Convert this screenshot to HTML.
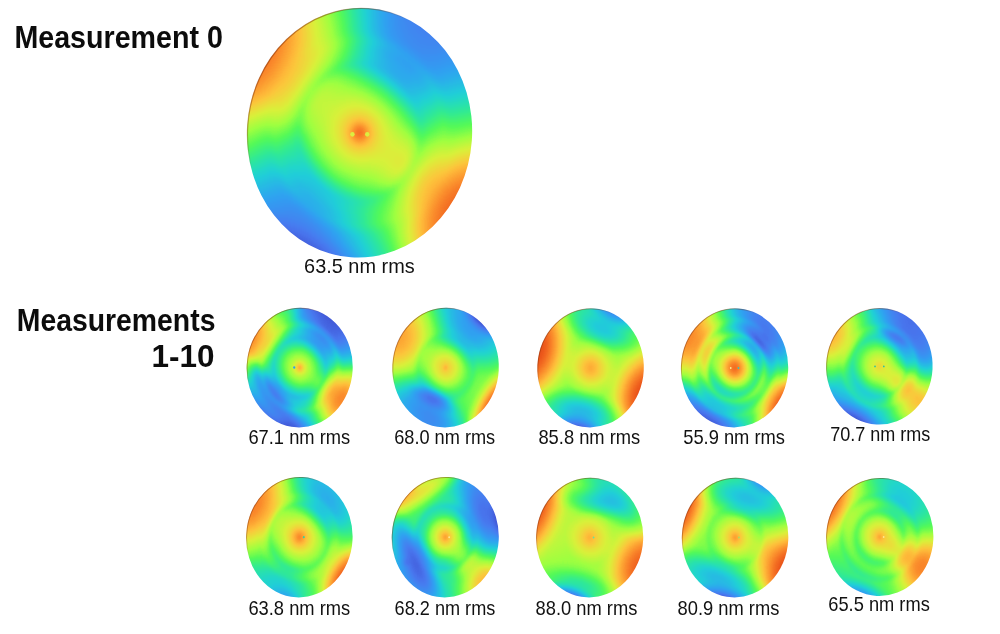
<!DOCTYPE html>
<html><head><meta charset="utf-8"><title>Measurements</title>
<style>
html,body{margin:0;padding:0;background:#fff}
body{width:1000px;height:634px;overflow:hidden;position:relative}
svg{display:block;position:absolute;left:0;top:0}
text{font-family:"Liberation Sans",sans-serif;fill:#111}
.h{font-weight:bold;font-size:32px;fill:#0c0c0c}
</style></head><body>
<svg width="1000" height="634" viewBox="0 0 1000 634">
<defs>
<clipPath id="uc"><circle r="1"/></clipPath>
<linearGradient id="rim" x1="0.1" y1="0.1" x2="0.9" y2="0.9"><stop offset="0" stop-color="#7a2800" stop-opacity=".5"/><stop offset=".2" stop-color="#7a2800" stop-opacity=".4"/><stop offset=".32" stop-color="#7a2800" stop-opacity="0"/><stop offset="1" stop-color="#7a2800" stop-opacity="0"/></linearGradient>
<filter id="jet" x="-0.05" y="-0.05" width="1.1" height="1.1" color-interpolation-filters="sRGB"><feGaussianBlur stdDeviation="0.022"/><feComponentTransfer><feFuncR type="table" tableValues="0.165 0.190 0.216 0.242 0.258 0.271 0.285 0.274 0.248 0.221 0.195 0.175 0.159 0.144 0.128 0.132 0.149 0.166 0.195 0.240 0.285 0.341 0.436 0.532 0.627 0.701 0.775 0.848 0.897 0.940 0.983 0.997 0.992 0.987 0.978 0.962 0.946 0.926 0.889 0.852 0.816"/><feFuncG type="table" tableValues="0.165 0.210 0.255 0.301 0.350 0.400 0.450 0.495 0.536 0.578 0.619 0.664 0.711 0.758 0.805 0.840 0.867 0.894 0.919 0.941 0.963 0.982 0.988 0.994 1.000 0.982 0.963 0.945 0.896 0.840 0.783 0.721 0.655 0.589 0.525 0.463 0.402 0.345 0.303 0.261 0.220"/><feFuncB type="table" tableValues="0.502 0.600 0.698 0.796 0.847 0.886 0.925 0.942 0.944 0.946 0.948 0.933 0.905 0.878 0.850 0.797 0.725 0.654 0.578 0.495 0.412 0.339 0.310 0.280 0.251 0.244 0.236 0.229 0.229 0.232 0.234 0.224 0.204 0.184 0.165 0.145 0.125 0.107 0.092 0.077 0.063"/></feComponentTransfer></filter>
<radialGradient id="wb"><stop offset="0" stop-color="#fff" stop-opacity="1"/><stop offset="0.15" stop-color="#fff" stop-opacity="0.95"/><stop offset="0.3" stop-color="#fff" stop-opacity="0.8"/><stop offset="0.45" stop-color="#fff" stop-opacity="0.58"/><stop offset="0.6" stop-color="#fff" stop-opacity="0.35"/><stop offset="0.75" stop-color="#fff" stop-opacity="0.16"/><stop offset="0.88" stop-color="#fff" stop-opacity="0.05"/><stop offset="1" stop-color="#fff" stop-opacity="0"/></radialGradient>
<radialGradient id="kb"><stop offset="0" stop-color="#000" stop-opacity="1"/><stop offset="0.15" stop-color="#000" stop-opacity="0.95"/><stop offset="0.3" stop-color="#000" stop-opacity="0.8"/><stop offset="0.45" stop-color="#000" stop-opacity="0.58"/><stop offset="0.6" stop-color="#000" stop-opacity="0.35"/><stop offset="0.75" stop-color="#000" stop-opacity="0.16"/><stop offset="0.88" stop-color="#000" stop-opacity="0.05"/><stop offset="1" stop-color="#000" stop-opacity="0"/></radialGradient>
<linearGradient id="sx0" gradientUnits="userSpaceOnUse" x1="-1" y1="0" x2="1" y2="0" gradientTransform="rotate(-147)"><stop offset="0" stop-color="#c2c2c2"/><stop offset="0.05" stop-color="#b7b7b7"/><stop offset="0.1" stop-color="#aeaeae"/><stop offset="0.15" stop-color="#a5a5a5"/><stop offset="0.2" stop-color="#9e9e9e"/><stop offset="0.25" stop-color="#989898"/><stop offset="0.3" stop-color="#939393"/><stop offset="0.35" stop-color="#8f8f8f"/><stop offset="0.4" stop-color="#8c8c8c"/><stop offset="0.45" stop-color="#8a8a8a"/><stop offset="0.5" stop-color="#8a8a8a"/><stop offset="0.55" stop-color="#8a8a8a"/><stop offset="0.6" stop-color="#8c8c8c"/><stop offset="0.65" stop-color="#8f8f8f"/><stop offset="0.7" stop-color="#939393"/><stop offset="0.75" stop-color="#989898"/><stop offset="0.8" stop-color="#9e9e9e"/><stop offset="0.85" stop-color="#a5a5a5"/><stop offset="0.9" stop-color="#aeaeae"/><stop offset="0.95" stop-color="#b7b7b7"/><stop offset="1" stop-color="#c2c2c2"/></linearGradient>
<linearGradient id="sy0" gradientUnits="userSpaceOnUse" x1="0" y1="-1" x2="0" y2="1" gradientTransform="rotate(-147)"><stop offset="0" stop-color="#000" stop-opacity="0.556"/><stop offset="0.05" stop-color="#000" stop-opacity="0.450"/><stop offset="0.1" stop-color="#000" stop-opacity="0.356"/><stop offset="0.15" stop-color="#000" stop-opacity="0.272"/><stop offset="0.2" stop-color="#000" stop-opacity="0.200"/><stop offset="0.25" stop-color="#000" stop-opacity="0.139"/><stop offset="0.3" stop-color="#000" stop-opacity="0.089"/><stop offset="0.35" stop-color="#000" stop-opacity="0.050"/><stop offset="0.4" stop-color="#000" stop-opacity="0.022"/><stop offset="0.45" stop-color="#000" stop-opacity="0.006"/><stop offset="0.5" stop-color="#000" stop-opacity="0.000"/><stop offset="0.55" stop-color="#000" stop-opacity="0.006"/><stop offset="0.6" stop-color="#000" stop-opacity="0.022"/><stop offset="0.65" stop-color="#000" stop-opacity="0.050"/><stop offset="0.7" stop-color="#000" stop-opacity="0.089"/><stop offset="0.75" stop-color="#000" stop-opacity="0.139"/><stop offset="0.8" stop-color="#000" stop-opacity="0.200"/><stop offset="0.85" stop-color="#000" stop-opacity="0.272"/><stop offset="0.9" stop-color="#000" stop-opacity="0.356"/><stop offset="0.95" stop-color="#000" stop-opacity="0.450"/><stop offset="1" stop-color="#000" stop-opacity="0.556"/></linearGradient>
<radialGradient id="rg0" gradientUnits="userSpaceOnUse" cx="0" cy="0" r="1.05"><stop offset="0" stop-color="#fff" stop-opacity="0.800"/><stop offset="0.0380952" stop-color="#fff" stop-opacity="0.700"/><stop offset="0.0761905" stop-color="#fff" stop-opacity="0.540"/><stop offset="0.12381" stop-color="#fff" stop-opacity="0.420"/><stop offset="0.190476" stop-color="#fff" stop-opacity="0.320"/><stop offset="0.285714" stop-color="#fff" stop-opacity="0.200"/><stop offset="0.380952" stop-color="#fff" stop-opacity="0.080"/><stop offset="0.428571" stop-color="#fff" stop-opacity="0"/><stop offset="0.428571" stop-color="#000" stop-opacity="0"/><stop offset="0.504762" stop-color="#000" stop-opacity="0.130"/><stop offset="0.571429" stop-color="#000" stop-opacity="0.050"/><stop offset="0.628571" stop-color="#000" stop-opacity="0"/><stop offset="0.628571" stop-color="#fff" stop-opacity="0"/><stop offset="0.685714" stop-color="#fff" stop-opacity="0.040"/><stop offset="0.761905" stop-color="#fff" stop-opacity="0"/><stop offset="0.952381" stop-color="#fff" stop-opacity="0"/></radialGradient>
<clipPath id="c0"><ellipse cx="359.6" cy="132.8" rx="112.5" ry="124.8" transform="rotate(4 359.6 132.8)"/></clipPath>
<linearGradient id="sx1" gradientUnits="userSpaceOnUse" x1="-1" y1="0" x2="1" y2="0" gradientTransform="rotate(-150)"><stop offset="0" stop-color="#a3a3a3"/><stop offset="0.05" stop-color="#9a9a9a"/><stop offset="0.1" stop-color="#919191"/><stop offset="0.15" stop-color="#898989"/><stop offset="0.2" stop-color="#838383"/><stop offset="0.25" stop-color="#7d7d7d"/><stop offset="0.3" stop-color="#787878"/><stop offset="0.35" stop-color="#757575"/><stop offset="0.4" stop-color="#727272"/><stop offset="0.45" stop-color="#717171"/><stop offset="0.5" stop-color="#707070"/><stop offset="0.55" stop-color="#717171"/><stop offset="0.6" stop-color="#727272"/><stop offset="0.65" stop-color="#757575"/><stop offset="0.7" stop-color="#787878"/><stop offset="0.75" stop-color="#7d7d7d"/><stop offset="0.8" stop-color="#838383"/><stop offset="0.85" stop-color="#898989"/><stop offset="0.9" stop-color="#919191"/><stop offset="0.95" stop-color="#9a9a9a"/><stop offset="1" stop-color="#a3a3a3"/></linearGradient>
<linearGradient id="sy1" gradientUnits="userSpaceOnUse" x1="0" y1="-1" x2="0" y2="1" gradientTransform="rotate(-150)"><stop offset="0" stop-color="#000" stop-opacity="0.682"/><stop offset="0.05" stop-color="#000" stop-opacity="0.552"/><stop offset="0.1" stop-color="#000" stop-opacity="0.436"/><stop offset="0.15" stop-color="#000" stop-opacity="0.334"/><stop offset="0.2" stop-color="#000" stop-opacity="0.245"/><stop offset="0.25" stop-color="#000" stop-opacity="0.170"/><stop offset="0.3" stop-color="#000" stop-opacity="0.109"/><stop offset="0.35" stop-color="#000" stop-opacity="0.061"/><stop offset="0.4" stop-color="#000" stop-opacity="0.027"/><stop offset="0.45" stop-color="#000" stop-opacity="0.007"/><stop offset="0.5" stop-color="#000" stop-opacity="0.000"/><stop offset="0.55" stop-color="#000" stop-opacity="0.007"/><stop offset="0.6" stop-color="#000" stop-opacity="0.027"/><stop offset="0.65" stop-color="#000" stop-opacity="0.061"/><stop offset="0.7" stop-color="#000" stop-opacity="0.109"/><stop offset="0.75" stop-color="#000" stop-opacity="0.170"/><stop offset="0.8" stop-color="#000" stop-opacity="0.245"/><stop offset="0.85" stop-color="#000" stop-opacity="0.334"/><stop offset="0.9" stop-color="#000" stop-opacity="0.436"/><stop offset="0.95" stop-color="#000" stop-opacity="0.552"/><stop offset="1" stop-color="#000" stop-opacity="0.682"/></linearGradient>
<radialGradient id="rg1" gradientUnits="userSpaceOnUse" cx="0" cy="0" r="1.05"><stop offset="0" stop-color="#fff" stop-opacity="0.700"/><stop offset="0.0571429" stop-color="#fff" stop-opacity="0.500"/><stop offset="0.142857" stop-color="#fff" stop-opacity="0.340"/><stop offset="0.266667" stop-color="#fff" stop-opacity="0.180"/><stop offset="0.361905" stop-color="#fff" stop-opacity="0"/><stop offset="0.361905" stop-color="#000" stop-opacity="0"/><stop offset="0.457143" stop-color="#000" stop-opacity="0.200"/><stop offset="0.542857" stop-color="#000" stop-opacity="0.050"/><stop offset="0.590476" stop-color="#000" stop-opacity="0"/><stop offset="0.590476" stop-color="#fff" stop-opacity="0"/><stop offset="0.666667" stop-color="#fff" stop-opacity="0.100"/><stop offset="0.761905" stop-color="#fff" stop-opacity="0"/><stop offset="0.952381" stop-color="#fff" stop-opacity="0"/></radialGradient>
<clipPath id="c1"><ellipse cx="299.7" cy="367.6" rx="53" ry="59.8" transform="rotate(3 299.7 367.6)"/></clipPath>
<linearGradient id="sx2" gradientUnits="userSpaceOnUse" x1="-1" y1="0" x2="1" y2="0" gradientTransform="rotate(-150)"><stop offset="0" stop-color="#a6a6a6"/><stop offset="0.05" stop-color="#9e9e9e"/><stop offset="0.1" stop-color="#989898"/><stop offset="0.15" stop-color="#929292"/><stop offset="0.2" stop-color="#8d8d8d"/><stop offset="0.25" stop-color="#898989"/><stop offset="0.3" stop-color="#868686"/><stop offset="0.35" stop-color="#838383"/><stop offset="0.4" stop-color="#818181"/><stop offset="0.45" stop-color="#808080"/><stop offset="0.5" stop-color="#808080"/><stop offset="0.55" stop-color="#808080"/><stop offset="0.6" stop-color="#818181"/><stop offset="0.65" stop-color="#838383"/><stop offset="0.7" stop-color="#868686"/><stop offset="0.75" stop-color="#898989"/><stop offset="0.8" stop-color="#8d8d8d"/><stop offset="0.85" stop-color="#929292"/><stop offset="0.9" stop-color="#989898"/><stop offset="0.95" stop-color="#9e9e9e"/><stop offset="1" stop-color="#a6a6a6"/></linearGradient>
<linearGradient id="sy2" gradientUnits="userSpaceOnUse" x1="0" y1="-1" x2="0" y2="1" gradientTransform="rotate(-150)"><stop offset="0" stop-color="#000" stop-opacity="0.400"/><stop offset="0.05" stop-color="#000" stop-opacity="0.324"/><stop offset="0.1" stop-color="#000" stop-opacity="0.256"/><stop offset="0.15" stop-color="#000" stop-opacity="0.196"/><stop offset="0.2" stop-color="#000" stop-opacity="0.144"/><stop offset="0.25" stop-color="#000" stop-opacity="0.100"/><stop offset="0.3" stop-color="#000" stop-opacity="0.064"/><stop offset="0.35" stop-color="#000" stop-opacity="0.036"/><stop offset="0.4" stop-color="#000" stop-opacity="0.016"/><stop offset="0.45" stop-color="#000" stop-opacity="0.004"/><stop offset="0.5" stop-color="#000" stop-opacity="0.000"/><stop offset="0.55" stop-color="#000" stop-opacity="0.004"/><stop offset="0.6" stop-color="#000" stop-opacity="0.016"/><stop offset="0.65" stop-color="#000" stop-opacity="0.036"/><stop offset="0.7" stop-color="#000" stop-opacity="0.064"/><stop offset="0.75" stop-color="#000" stop-opacity="0.100"/><stop offset="0.8" stop-color="#000" stop-opacity="0.144"/><stop offset="0.85" stop-color="#000" stop-opacity="0.196"/><stop offset="0.9" stop-color="#000" stop-opacity="0.256"/><stop offset="0.95" stop-color="#000" stop-opacity="0.324"/><stop offset="1" stop-color="#000" stop-opacity="0.400"/></linearGradient>
<radialGradient id="rg2" gradientUnits="userSpaceOnUse" cx="0" cy="0" r="1.05"><stop offset="0" stop-color="#fff" stop-opacity="0.620"/><stop offset="0.047619" stop-color="#fff" stop-opacity="0.480"/><stop offset="0.190476" stop-color="#fff" stop-opacity="0.340"/><stop offset="0.304762" stop-color="#fff" stop-opacity="0.150"/><stop offset="0.4" stop-color="#fff" stop-opacity="0"/><stop offset="0.4" stop-color="#000" stop-opacity="0"/><stop offset="0.47619" stop-color="#000" stop-opacity="0.080"/><stop offset="0.571429" stop-color="#000" stop-opacity="0"/><stop offset="0.952381" stop-color="#fff" stop-opacity="0"/></radialGradient>
<clipPath id="c2"><ellipse cx="445.6" cy="367.6" rx="53.2" ry="59.8" transform="rotate(3 445.6 367.6)"/></clipPath>
<linearGradient id="sx3" gradientUnits="userSpaceOnUse" x1="-1" y1="0" x2="1" y2="0" gradientTransform="rotate(-165)"><stop offset="0" stop-color="#bdbdbd"/><stop offset="0.05" stop-color="#b6b6b6"/><stop offset="0.1" stop-color="#b0b0b0"/><stop offset="0.15" stop-color="#aaaaaa"/><stop offset="0.2" stop-color="#a6a6a6"/><stop offset="0.25" stop-color="#a2a2a2"/><stop offset="0.3" stop-color="#9f9f9f"/><stop offset="0.35" stop-color="#9c9c9c"/><stop offset="0.4" stop-color="#9a9a9a"/><stop offset="0.45" stop-color="#999999"/><stop offset="0.5" stop-color="#999999"/><stop offset="0.55" stop-color="#999999"/><stop offset="0.6" stop-color="#9a9a9a"/><stop offset="0.65" stop-color="#9c9c9c"/><stop offset="0.7" stop-color="#9f9f9f"/><stop offset="0.75" stop-color="#a2a2a2"/><stop offset="0.8" stop-color="#a6a6a6"/><stop offset="0.85" stop-color="#aaaaaa"/><stop offset="0.9" stop-color="#b0b0b0"/><stop offset="0.95" stop-color="#b6b6b6"/><stop offset="1" stop-color="#bdbdbd"/></linearGradient>
<linearGradient id="sy3" gradientUnits="userSpaceOnUse" x1="0" y1="-1" x2="0" y2="1" gradientTransform="rotate(-165)"><stop offset="0" stop-color="#000" stop-opacity="0.333"/><stop offset="0.05" stop-color="#000" stop-opacity="0.270"/><stop offset="0.1" stop-color="#000" stop-opacity="0.213"/><stop offset="0.15" stop-color="#000" stop-opacity="0.163"/><stop offset="0.2" stop-color="#000" stop-opacity="0.120"/><stop offset="0.25" stop-color="#000" stop-opacity="0.083"/><stop offset="0.3" stop-color="#000" stop-opacity="0.053"/><stop offset="0.35" stop-color="#000" stop-opacity="0.030"/><stop offset="0.4" stop-color="#000" stop-opacity="0.013"/><stop offset="0.45" stop-color="#000" stop-opacity="0.003"/><stop offset="0.5" stop-color="#000" stop-opacity="0.000"/><stop offset="0.55" stop-color="#000" stop-opacity="0.003"/><stop offset="0.6" stop-color="#000" stop-opacity="0.013"/><stop offset="0.65" stop-color="#000" stop-opacity="0.030"/><stop offset="0.7" stop-color="#000" stop-opacity="0.053"/><stop offset="0.75" stop-color="#000" stop-opacity="0.083"/><stop offset="0.8" stop-color="#000" stop-opacity="0.120"/><stop offset="0.85" stop-color="#000" stop-opacity="0.163"/><stop offset="0.9" stop-color="#000" stop-opacity="0.213"/><stop offset="0.95" stop-color="#000" stop-opacity="0.270"/><stop offset="1" stop-color="#000" stop-opacity="0.333"/></linearGradient>
<radialGradient id="rg3" gradientUnits="userSpaceOnUse" cx="0" cy="0" r="1.05"><stop offset="0" stop-color="#fff" stop-opacity="0.500"/><stop offset="0.0952381" stop-color="#fff" stop-opacity="0.420"/><stop offset="0.190476" stop-color="#fff" stop-opacity="0.300"/><stop offset="0.333333" stop-color="#fff" stop-opacity="0.120"/><stop offset="0.47619" stop-color="#fff" stop-opacity="0"/><stop offset="0.952381" stop-color="#fff" stop-opacity="0"/></radialGradient>
<clipPath id="c3"><ellipse cx="590.6" cy="367.9" rx="53.2" ry="59.5" transform="rotate(3 590.6 367.9)"/></clipPath>
<linearGradient id="sx4" gradientUnits="userSpaceOnUse" x1="-1" y1="0" x2="1" y2="0" gradientTransform="rotate(-148)"><stop offset="0" stop-color="#a8a8a8"/><stop offset="0.05" stop-color="#a0a0a0"/><stop offset="0.1" stop-color="#989898"/><stop offset="0.15" stop-color="#919191"/><stop offset="0.2" stop-color="#8b8b8b"/><stop offset="0.25" stop-color="#868686"/><stop offset="0.3" stop-color="#828282"/><stop offset="0.35" stop-color="#7f7f7f"/><stop offset="0.4" stop-color="#7c7c7c"/><stop offset="0.45" stop-color="#7b7b7b"/><stop offset="0.5" stop-color="#7a7a7a"/><stop offset="0.55" stop-color="#7b7b7b"/><stop offset="0.6" stop-color="#7c7c7c"/><stop offset="0.65" stop-color="#7f7f7f"/><stop offset="0.7" stop-color="#828282"/><stop offset="0.75" stop-color="#868686"/><stop offset="0.8" stop-color="#8b8b8b"/><stop offset="0.85" stop-color="#919191"/><stop offset="0.9" stop-color="#989898"/><stop offset="0.95" stop-color="#a0a0a0"/><stop offset="1" stop-color="#a8a8a8"/></linearGradient>
<linearGradient id="sy4" gradientUnits="userSpaceOnUse" x1="0" y1="-1" x2="0" y2="1" gradientTransform="rotate(-148)"><stop offset="0" stop-color="#000" stop-opacity="0.521"/><stop offset="0.05" stop-color="#000" stop-opacity="0.422"/><stop offset="0.1" stop-color="#000" stop-opacity="0.333"/><stop offset="0.15" stop-color="#000" stop-opacity="0.255"/><stop offset="0.2" stop-color="#000" stop-opacity="0.188"/><stop offset="0.25" stop-color="#000" stop-opacity="0.130"/><stop offset="0.3" stop-color="#000" stop-opacity="0.083"/><stop offset="0.35" stop-color="#000" stop-opacity="0.047"/><stop offset="0.4" stop-color="#000" stop-opacity="0.021"/><stop offset="0.45" stop-color="#000" stop-opacity="0.005"/><stop offset="0.5" stop-color="#000" stop-opacity="0.000"/><stop offset="0.55" stop-color="#000" stop-opacity="0.005"/><stop offset="0.6" stop-color="#000" stop-opacity="0.021"/><stop offset="0.65" stop-color="#000" stop-opacity="0.047"/><stop offset="0.7" stop-color="#000" stop-opacity="0.083"/><stop offset="0.75" stop-color="#000" stop-opacity="0.130"/><stop offset="0.8" stop-color="#000" stop-opacity="0.188"/><stop offset="0.85" stop-color="#000" stop-opacity="0.255"/><stop offset="0.9" stop-color="#000" stop-opacity="0.333"/><stop offset="0.95" stop-color="#000" stop-opacity="0.422"/><stop offset="1" stop-color="#000" stop-opacity="0.521"/></linearGradient>
<radialGradient id="rg4" gradientUnits="userSpaceOnUse" cx="0" cy="0" r="1.05"><stop offset="0" stop-color="#fff" stop-opacity="0.820"/><stop offset="0.0761905" stop-color="#fff" stop-opacity="0.720"/><stop offset="0.152381" stop-color="#fff" stop-opacity="0.560"/><stop offset="0.247619" stop-color="#fff" stop-opacity="0.320"/><stop offset="0.32381" stop-color="#fff" stop-opacity="0.100"/><stop offset="0.361905" stop-color="#fff" stop-opacity="0"/><stop offset="0.361905" stop-color="#000" stop-opacity="0"/><stop offset="0.419048" stop-color="#000" stop-opacity="0.120"/><stop offset="0.466667" stop-color="#000" stop-opacity="0"/><stop offset="0.466667" stop-color="#fff" stop-opacity="0"/><stop offset="0.514286" stop-color="#fff" stop-opacity="0.120"/><stop offset="0.561905" stop-color="#fff" stop-opacity="0"/><stop offset="0.561905" stop-color="#000" stop-opacity="0"/><stop offset="0.628571" stop-color="#000" stop-opacity="0.100"/><stop offset="0.695238" stop-color="#000" stop-opacity="0"/><stop offset="0.695238" stop-color="#fff" stop-opacity="0"/><stop offset="0.752381" stop-color="#fff" stop-opacity="0.060"/><stop offset="0.809524" stop-color="#fff" stop-opacity="0"/><stop offset="0.952381" stop-color="#fff" stop-opacity="0"/></radialGradient>
<clipPath id="c4"><ellipse cx="734.6" cy="367.9" rx="53.6" ry="59.5" transform="rotate(3 734.6 367.9)"/></clipPath>
<linearGradient id="sx5" gradientUnits="userSpaceOnUse" x1="-1" y1="0" x2="1" y2="0" gradientTransform="rotate(-148)"><stop offset="0" stop-color="#9e9e9e"/><stop offset="0.05" stop-color="#979797"/><stop offset="0.1" stop-color="#909090"/><stop offset="0.15" stop-color="#8b8b8b"/><stop offset="0.2" stop-color="#868686"/><stop offset="0.25" stop-color="#818181"/><stop offset="0.3" stop-color="#7e7e7e"/><stop offset="0.35" stop-color="#7b7b7b"/><stop offset="0.4" stop-color="#797979"/><stop offset="0.45" stop-color="#787878"/><stop offset="0.5" stop-color="#787878"/><stop offset="0.55" stop-color="#787878"/><stop offset="0.6" stop-color="#797979"/><stop offset="0.65" stop-color="#7b7b7b"/><stop offset="0.7" stop-color="#7e7e7e"/><stop offset="0.75" stop-color="#818181"/><stop offset="0.8" stop-color="#868686"/><stop offset="0.85" stop-color="#8b8b8b"/><stop offset="0.9" stop-color="#909090"/><stop offset="0.95" stop-color="#979797"/><stop offset="1" stop-color="#9e9e9e"/></linearGradient>
<linearGradient id="sy5" gradientUnits="userSpaceOnUse" x1="0" y1="-1" x2="0" y2="1" gradientTransform="rotate(-148)"><stop offset="0" stop-color="#000" stop-opacity="0.596"/><stop offset="0.05" stop-color="#000" stop-opacity="0.483"/><stop offset="0.1" stop-color="#000" stop-opacity="0.381"/><stop offset="0.15" stop-color="#000" stop-opacity="0.292"/><stop offset="0.2" stop-color="#000" stop-opacity="0.214"/><stop offset="0.25" stop-color="#000" stop-opacity="0.149"/><stop offset="0.3" stop-color="#000" stop-opacity="0.095"/><stop offset="0.35" stop-color="#000" stop-opacity="0.054"/><stop offset="0.4" stop-color="#000" stop-opacity="0.024"/><stop offset="0.45" stop-color="#000" stop-opacity="0.006"/><stop offset="0.5" stop-color="#000" stop-opacity="0.000"/><stop offset="0.55" stop-color="#000" stop-opacity="0.006"/><stop offset="0.6" stop-color="#000" stop-opacity="0.024"/><stop offset="0.65" stop-color="#000" stop-opacity="0.054"/><stop offset="0.7" stop-color="#000" stop-opacity="0.095"/><stop offset="0.75" stop-color="#000" stop-opacity="0.149"/><stop offset="0.8" stop-color="#000" stop-opacity="0.214"/><stop offset="0.85" stop-color="#000" stop-opacity="0.292"/><stop offset="0.9" stop-color="#000" stop-opacity="0.381"/><stop offset="0.95" stop-color="#000" stop-opacity="0.483"/><stop offset="1" stop-color="#000" stop-opacity="0.596"/></linearGradient>
<radialGradient id="rg5" gradientUnits="userSpaceOnUse" cx="0" cy="0" r="1.05"><stop offset="0" stop-color="#fff" stop-opacity="0.500"/><stop offset="0.0761905" stop-color="#fff" stop-opacity="0.420"/><stop offset="0.190476" stop-color="#fff" stop-opacity="0.320"/><stop offset="0.304762" stop-color="#fff" stop-opacity="0.160"/><stop offset="0.4" stop-color="#fff" stop-opacity="0"/><stop offset="0.4" stop-color="#000" stop-opacity="0"/><stop offset="0.47619" stop-color="#000" stop-opacity="0.120"/><stop offset="0.552381" stop-color="#000" stop-opacity="0"/><stop offset="0.552381" stop-color="#fff" stop-opacity="0"/><stop offset="0.628571" stop-color="#fff" stop-opacity="0.080"/><stop offset="0.714286" stop-color="#fff" stop-opacity="0"/><stop offset="0.952381" stop-color="#fff" stop-opacity="0"/></radialGradient>
<clipPath id="c5"><ellipse cx="879.4" cy="366.4" rx="53.2" ry="58.2" transform="rotate(3 879.4 366.4)"/></clipPath>
<linearGradient id="sx6" gradientUnits="userSpaceOnUse" x1="-1" y1="0" x2="1" y2="0" gradientTransform="rotate(-148)"><stop offset="0" stop-color="#adadad"/><stop offset="0.05" stop-color="#a8a8a8"/><stop offset="0.1" stop-color="#a2a2a2"/><stop offset="0.15" stop-color="#9e9e9e"/><stop offset="0.2" stop-color="#9a9a9a"/><stop offset="0.25" stop-color="#969696"/><stop offset="0.3" stop-color="#949494"/><stop offset="0.35" stop-color="#929292"/><stop offset="0.4" stop-color="#909090"/><stop offset="0.45" stop-color="#8f8f8f"/><stop offset="0.5" stop-color="#8f8f8f"/><stop offset="0.55" stop-color="#8f8f8f"/><stop offset="0.6" stop-color="#909090"/><stop offset="0.65" stop-color="#929292"/><stop offset="0.7" stop-color="#949494"/><stop offset="0.75" stop-color="#969696"/><stop offset="0.8" stop-color="#9a9a9a"/><stop offset="0.85" stop-color="#9e9e9e"/><stop offset="0.9" stop-color="#a2a2a2"/><stop offset="0.95" stop-color="#a8a8a8"/><stop offset="1" stop-color="#adadad"/></linearGradient>
<linearGradient id="sy6" gradientUnits="userSpaceOnUse" x1="0" y1="-1" x2="0" y2="1" gradientTransform="rotate(-148)"><stop offset="0" stop-color="#000" stop-opacity="0.268"/><stop offset="0.05" stop-color="#000" stop-opacity="0.217"/><stop offset="0.1" stop-color="#000" stop-opacity="0.171"/><stop offset="0.15" stop-color="#000" stop-opacity="0.131"/><stop offset="0.2" stop-color="#000" stop-opacity="0.096"/><stop offset="0.25" stop-color="#000" stop-opacity="0.067"/><stop offset="0.3" stop-color="#000" stop-opacity="0.043"/><stop offset="0.35" stop-color="#000" stop-opacity="0.024"/><stop offset="0.4" stop-color="#000" stop-opacity="0.011"/><stop offset="0.45" stop-color="#000" stop-opacity="0.003"/><stop offset="0.5" stop-color="#000" stop-opacity="0.000"/><stop offset="0.55" stop-color="#000" stop-opacity="0.003"/><stop offset="0.6" stop-color="#000" stop-opacity="0.011"/><stop offset="0.65" stop-color="#000" stop-opacity="0.024"/><stop offset="0.7" stop-color="#000" stop-opacity="0.043"/><stop offset="0.75" stop-color="#000" stop-opacity="0.067"/><stop offset="0.8" stop-color="#000" stop-opacity="0.096"/><stop offset="0.85" stop-color="#000" stop-opacity="0.131"/><stop offset="0.9" stop-color="#000" stop-opacity="0.171"/><stop offset="0.95" stop-color="#000" stop-opacity="0.217"/><stop offset="1" stop-color="#000" stop-opacity="0.268"/></linearGradient>
<radialGradient id="rg6" gradientUnits="userSpaceOnUse" cx="0" cy="0" r="1.05"><stop offset="0" stop-color="#fff" stop-opacity="0.700"/><stop offset="0.0761905" stop-color="#fff" stop-opacity="0.540"/><stop offset="0.171429" stop-color="#fff" stop-opacity="0.360"/><stop offset="0.285714" stop-color="#fff" stop-opacity="0.200"/><stop offset="0.419048" stop-color="#fff" stop-opacity="0"/><stop offset="0.419048" stop-color="#000" stop-opacity="0"/><stop offset="0.504762" stop-color="#000" stop-opacity="0.100"/><stop offset="0.580952" stop-color="#000" stop-opacity="0"/><stop offset="0.580952" stop-color="#fff" stop-opacity="0"/><stop offset="0.647619" stop-color="#fff" stop-opacity="0.040"/><stop offset="0.714286" stop-color="#fff" stop-opacity="0"/><stop offset="0.952381" stop-color="#fff" stop-opacity="0"/></radialGradient>
<clipPath id="c6"><ellipse cx="299.4" cy="537.2" rx="53.2" ry="60.2" transform="rotate(3 299.4 537.2)"/></clipPath>
<linearGradient id="sx7" gradientUnits="userSpaceOnUse" x1="-1" y1="0" x2="1" y2="0" gradientTransform="rotate(-135)"><stop offset="0" stop-color="#8c8c8c"/><stop offset="0.05" stop-color="#878787"/><stop offset="0.1" stop-color="#838383"/><stop offset="0.15" stop-color="#7f7f7f"/><stop offset="0.2" stop-color="#7c7c7c"/><stop offset="0.25" stop-color="#797979"/><stop offset="0.3" stop-color="#777777"/><stop offset="0.35" stop-color="#757575"/><stop offset="0.4" stop-color="#747474"/><stop offset="0.45" stop-color="#737373"/><stop offset="0.5" stop-color="#737373"/><stop offset="0.55" stop-color="#737373"/><stop offset="0.6" stop-color="#747474"/><stop offset="0.65" stop-color="#757575"/><stop offset="0.7" stop-color="#777777"/><stop offset="0.75" stop-color="#797979"/><stop offset="0.8" stop-color="#7c7c7c"/><stop offset="0.85" stop-color="#7f7f7f"/><stop offset="0.9" stop-color="#838383"/><stop offset="0.95" stop-color="#878787"/><stop offset="1" stop-color="#8c8c8c"/></linearGradient>
<linearGradient id="sy7" gradientUnits="userSpaceOnUse" x1="0" y1="-1" x2="0" y2="1" gradientTransform="rotate(-135)"><stop offset="0" stop-color="#000" stop-opacity="0.333"/><stop offset="0.05" stop-color="#000" stop-opacity="0.270"/><stop offset="0.1" stop-color="#000" stop-opacity="0.213"/><stop offset="0.15" stop-color="#000" stop-opacity="0.163"/><stop offset="0.2" stop-color="#000" stop-opacity="0.120"/><stop offset="0.25" stop-color="#000" stop-opacity="0.083"/><stop offset="0.3" stop-color="#000" stop-opacity="0.053"/><stop offset="0.35" stop-color="#000" stop-opacity="0.030"/><stop offset="0.4" stop-color="#000" stop-opacity="0.013"/><stop offset="0.45" stop-color="#000" stop-opacity="0.003"/><stop offset="0.5" stop-color="#000" stop-opacity="0.000"/><stop offset="0.55" stop-color="#000" stop-opacity="0.003"/><stop offset="0.6" stop-color="#000" stop-opacity="0.013"/><stop offset="0.65" stop-color="#000" stop-opacity="0.030"/><stop offset="0.7" stop-color="#000" stop-opacity="0.053"/><stop offset="0.75" stop-color="#000" stop-opacity="0.083"/><stop offset="0.8" stop-color="#000" stop-opacity="0.120"/><stop offset="0.85" stop-color="#000" stop-opacity="0.163"/><stop offset="0.9" stop-color="#000" stop-opacity="0.213"/><stop offset="0.95" stop-color="#000" stop-opacity="0.270"/><stop offset="1" stop-color="#000" stop-opacity="0.333"/></linearGradient>
<radialGradient id="rg7" gradientUnits="userSpaceOnUse" cx="0" cy="0" r="1.05"><stop offset="0" stop-color="#fff" stop-opacity="0.700"/><stop offset="0.0666667" stop-color="#fff" stop-opacity="0.560"/><stop offset="0.152381" stop-color="#fff" stop-opacity="0.420"/><stop offset="0.266667" stop-color="#fff" stop-opacity="0.220"/><stop offset="0.361905" stop-color="#fff" stop-opacity="0"/><stop offset="0.361905" stop-color="#000" stop-opacity="0"/><stop offset="0.47619" stop-color="#000" stop-opacity="0.160"/><stop offset="0.571429" stop-color="#000" stop-opacity="0"/><stop offset="0.952381" stop-color="#fff" stop-opacity="0"/></radialGradient>
<clipPath id="c7"><ellipse cx="445.3" cy="537.2" rx="53.5" ry="60.2" transform="rotate(3 445.3 537.2)"/></clipPath>
<linearGradient id="sx8" gradientUnits="userSpaceOnUse" x1="-1" y1="0" x2="1" y2="0" gradientTransform="rotate(-160)"><stop offset="0" stop-color="#b8b8b8"/><stop offset="0.05" stop-color="#b3b3b3"/><stop offset="0.1" stop-color="#aeaeae"/><stop offset="0.15" stop-color="#ababab"/><stop offset="0.2" stop-color="#a7a7a7"/><stop offset="0.25" stop-color="#a4a4a4"/><stop offset="0.3" stop-color="#a2a2a2"/><stop offset="0.35" stop-color="#a0a0a0"/><stop offset="0.4" stop-color="#9f9f9f"/><stop offset="0.45" stop-color="#9e9e9e"/><stop offset="0.5" stop-color="#9e9e9e"/><stop offset="0.55" stop-color="#9e9e9e"/><stop offset="0.6" stop-color="#9f9f9f"/><stop offset="0.65" stop-color="#a0a0a0"/><stop offset="0.7" stop-color="#a2a2a2"/><stop offset="0.75" stop-color="#a4a4a4"/><stop offset="0.8" stop-color="#a7a7a7"/><stop offset="0.85" stop-color="#ababab"/><stop offset="0.9" stop-color="#aeaeae"/><stop offset="0.95" stop-color="#b3b3b3"/><stop offset="1" stop-color="#b8b8b8"/></linearGradient>
<linearGradient id="sy8" gradientUnits="userSpaceOnUse" x1="0" y1="-1" x2="0" y2="1" gradientTransform="rotate(-160)"><stop offset="0" stop-color="#000" stop-opacity="0.194"/><stop offset="0.05" stop-color="#000" stop-opacity="0.157"/><stop offset="0.1" stop-color="#000" stop-opacity="0.124"/><stop offset="0.15" stop-color="#000" stop-opacity="0.095"/><stop offset="0.2" stop-color="#000" stop-opacity="0.070"/><stop offset="0.25" stop-color="#000" stop-opacity="0.048"/><stop offset="0.3" stop-color="#000" stop-opacity="0.031"/><stop offset="0.35" stop-color="#000" stop-opacity="0.017"/><stop offset="0.4" stop-color="#000" stop-opacity="0.008"/><stop offset="0.45" stop-color="#000" stop-opacity="0.002"/><stop offset="0.5" stop-color="#000" stop-opacity="0.000"/><stop offset="0.55" stop-color="#000" stop-opacity="0.002"/><stop offset="0.6" stop-color="#000" stop-opacity="0.008"/><stop offset="0.65" stop-color="#000" stop-opacity="0.017"/><stop offset="0.7" stop-color="#000" stop-opacity="0.031"/><stop offset="0.75" stop-color="#000" stop-opacity="0.048"/><stop offset="0.8" stop-color="#000" stop-opacity="0.070"/><stop offset="0.85" stop-color="#000" stop-opacity="0.095"/><stop offset="0.9" stop-color="#000" stop-opacity="0.124"/><stop offset="0.95" stop-color="#000" stop-opacity="0.157"/><stop offset="1" stop-color="#000" stop-opacity="0.194"/></linearGradient>
<radialGradient id="rg8" gradientUnits="userSpaceOnUse" cx="0" cy="0" r="1.05"><stop offset="0" stop-color="#fff" stop-opacity="0.450"/><stop offset="0.0761905" stop-color="#fff" stop-opacity="0.360"/><stop offset="0.190476" stop-color="#fff" stop-opacity="0.220"/><stop offset="0.333333" stop-color="#fff" stop-opacity="0.080"/><stop offset="0.428571" stop-color="#fff" stop-opacity="0"/><stop offset="0.952381" stop-color="#fff" stop-opacity="0"/></radialGradient>
<clipPath id="c8"><ellipse cx="589.7" cy="537.6" rx="53.5" ry="59.8" transform="rotate(3 589.7 537.6)"/></clipPath>
<linearGradient id="sx9" gradientUnits="userSpaceOnUse" x1="-1" y1="0" x2="1" y2="0" gradientTransform="rotate(-155)"><stop offset="0" stop-color="#adadad"/><stop offset="0.05" stop-color="#a8a8a8"/><stop offset="0.1" stop-color="#a2a2a2"/><stop offset="0.15" stop-color="#9e9e9e"/><stop offset="0.2" stop-color="#9a9a9a"/><stop offset="0.25" stop-color="#969696"/><stop offset="0.3" stop-color="#949494"/><stop offset="0.35" stop-color="#929292"/><stop offset="0.4" stop-color="#909090"/><stop offset="0.45" stop-color="#8f8f8f"/><stop offset="0.5" stop-color="#8f8f8f"/><stop offset="0.55" stop-color="#8f8f8f"/><stop offset="0.6" stop-color="#909090"/><stop offset="0.65" stop-color="#929292"/><stop offset="0.7" stop-color="#949494"/><stop offset="0.75" stop-color="#969696"/><stop offset="0.8" stop-color="#9a9a9a"/><stop offset="0.85" stop-color="#9e9e9e"/><stop offset="0.9" stop-color="#a2a2a2"/><stop offset="0.95" stop-color="#a8a8a8"/><stop offset="1" stop-color="#adadad"/></linearGradient>
<linearGradient id="sy9" gradientUnits="userSpaceOnUse" x1="0" y1="-1" x2="0" y2="1" gradientTransform="rotate(-155)"><stop offset="0" stop-color="#000" stop-opacity="0.268"/><stop offset="0.05" stop-color="#000" stop-opacity="0.217"/><stop offset="0.1" stop-color="#000" stop-opacity="0.171"/><stop offset="0.15" stop-color="#000" stop-opacity="0.131"/><stop offset="0.2" stop-color="#000" stop-opacity="0.096"/><stop offset="0.25" stop-color="#000" stop-opacity="0.067"/><stop offset="0.3" stop-color="#000" stop-opacity="0.043"/><stop offset="0.35" stop-color="#000" stop-opacity="0.024"/><stop offset="0.4" stop-color="#000" stop-opacity="0.011"/><stop offset="0.45" stop-color="#000" stop-opacity="0.003"/><stop offset="0.5" stop-color="#000" stop-opacity="0.000"/><stop offset="0.55" stop-color="#000" stop-opacity="0.003"/><stop offset="0.6" stop-color="#000" stop-opacity="0.011"/><stop offset="0.65" stop-color="#000" stop-opacity="0.024"/><stop offset="0.7" stop-color="#000" stop-opacity="0.043"/><stop offset="0.75" stop-color="#000" stop-opacity="0.067"/><stop offset="0.8" stop-color="#000" stop-opacity="0.096"/><stop offset="0.85" stop-color="#000" stop-opacity="0.131"/><stop offset="0.9" stop-color="#000" stop-opacity="0.171"/><stop offset="0.95" stop-color="#000" stop-opacity="0.217"/><stop offset="1" stop-color="#000" stop-opacity="0.268"/></linearGradient>
<radialGradient id="rg9" gradientUnits="userSpaceOnUse" cx="0" cy="0" r="1.05"><stop offset="0" stop-color="#fff" stop-opacity="0.620"/><stop offset="0.0666667" stop-color="#fff" stop-opacity="0.480"/><stop offset="0.152381" stop-color="#fff" stop-opacity="0.340"/><stop offset="0.266667" stop-color="#fff" stop-opacity="0.180"/><stop offset="0.380952" stop-color="#fff" stop-opacity="0"/><stop offset="0.380952" stop-color="#000" stop-opacity="0"/><stop offset="0.457143" stop-color="#000" stop-opacity="0.060"/><stop offset="0.533333" stop-color="#000" stop-opacity="0"/><stop offset="0.952381" stop-color="#fff" stop-opacity="0"/></radialGradient>
<clipPath id="c9"><ellipse cx="735.1" cy="537.6" rx="53.2" ry="59.8" transform="rotate(3 735.1 537.6)"/></clipPath>
<linearGradient id="sx10" gradientUnits="userSpaceOnUse" x1="-1" y1="0" x2="1" y2="0" gradientTransform="rotate(-150)"><stop offset="0" stop-color="#adadad"/><stop offset="0.05" stop-color="#a8a8a8"/><stop offset="0.1" stop-color="#a2a2a2"/><stop offset="0.15" stop-color="#9e9e9e"/><stop offset="0.2" stop-color="#9a9a9a"/><stop offset="0.25" stop-color="#969696"/><stop offset="0.3" stop-color="#949494"/><stop offset="0.35" stop-color="#929292"/><stop offset="0.4" stop-color="#909090"/><stop offset="0.45" stop-color="#8f8f8f"/><stop offset="0.5" stop-color="#8f8f8f"/><stop offset="0.55" stop-color="#8f8f8f"/><stop offset="0.6" stop-color="#909090"/><stop offset="0.65" stop-color="#929292"/><stop offset="0.7" stop-color="#949494"/><stop offset="0.75" stop-color="#969696"/><stop offset="0.8" stop-color="#9a9a9a"/><stop offset="0.85" stop-color="#9e9e9e"/><stop offset="0.9" stop-color="#a2a2a2"/><stop offset="0.95" stop-color="#a8a8a8"/><stop offset="1" stop-color="#adadad"/></linearGradient>
<linearGradient id="sy10" gradientUnits="userSpaceOnUse" x1="0" y1="-1" x2="0" y2="1" gradientTransform="rotate(-150)"><stop offset="0" stop-color="#000" stop-opacity="0.268"/><stop offset="0.05" stop-color="#000" stop-opacity="0.217"/><stop offset="0.1" stop-color="#000" stop-opacity="0.171"/><stop offset="0.15" stop-color="#000" stop-opacity="0.131"/><stop offset="0.2" stop-color="#000" stop-opacity="0.096"/><stop offset="0.25" stop-color="#000" stop-opacity="0.067"/><stop offset="0.3" stop-color="#000" stop-opacity="0.043"/><stop offset="0.35" stop-color="#000" stop-opacity="0.024"/><stop offset="0.4" stop-color="#000" stop-opacity="0.011"/><stop offset="0.45" stop-color="#000" stop-opacity="0.003"/><stop offset="0.5" stop-color="#000" stop-opacity="0.000"/><stop offset="0.55" stop-color="#000" stop-opacity="0.003"/><stop offset="0.6" stop-color="#000" stop-opacity="0.011"/><stop offset="0.65" stop-color="#000" stop-opacity="0.024"/><stop offset="0.7" stop-color="#000" stop-opacity="0.043"/><stop offset="0.75" stop-color="#000" stop-opacity="0.067"/><stop offset="0.8" stop-color="#000" stop-opacity="0.096"/><stop offset="0.85" stop-color="#000" stop-opacity="0.131"/><stop offset="0.9" stop-color="#000" stop-opacity="0.171"/><stop offset="0.95" stop-color="#000" stop-opacity="0.217"/><stop offset="1" stop-color="#000" stop-opacity="0.268"/></linearGradient>
<radialGradient id="rg10" gradientUnits="userSpaceOnUse" cx="0" cy="0" r="1.05"><stop offset="0" stop-color="#fff" stop-opacity="0.600"/><stop offset="0.0571429" stop-color="#fff" stop-opacity="0.460"/><stop offset="0.142857" stop-color="#fff" stop-opacity="0.340"/><stop offset="0.247619" stop-color="#fff" stop-opacity="0.200"/><stop offset="0.342857" stop-color="#fff" stop-opacity="0"/><stop offset="0.342857" stop-color="#000" stop-opacity="0"/><stop offset="0.409524" stop-color="#000" stop-opacity="0.100"/><stop offset="0.47619" stop-color="#000" stop-opacity="0"/><stop offset="0.47619" stop-color="#fff" stop-opacity="0"/><stop offset="0.533333" stop-color="#fff" stop-opacity="0.050"/><stop offset="0.590476" stop-color="#fff" stop-opacity="0"/><stop offset="0.590476" stop-color="#000" stop-opacity="0"/><stop offset="0.657143" stop-color="#000" stop-opacity="0.080"/><stop offset="0.733333" stop-color="#000" stop-opacity="0"/><stop offset="0.952381" stop-color="#fff" stop-opacity="0"/></radialGradient>
<clipPath id="c10"><ellipse cx="879.8" cy="537" rx="53.6" ry="59" transform="rotate(3 879.8 537)"/></clipPath>
</defs>
<text class="h" x="14.4" y="47.6" textLength="208.5" lengthAdjust="spacingAndGlyphs">Measurement 0</text>
<text class="h" x="16.8" y="330.5" textLength="198.6" lengthAdjust="spacingAndGlyphs">Measurements</text>
<text class="h" x="151.6" y="366.5" textLength="63" lengthAdjust="spacingAndGlyphs">1-10</text>
<g clip-path="url(#c0)"><g transform="translate(359.6 132.8) scale(115.875 128.544)"><g filter="url(#jet)"><rect x="-1.1" y="-1.1" width="2.2" height="2.2" fill="url(#sx0)"/><rect x="-1.1" y="-1.1" width="2.2" height="2.2" fill="url(#sy0)"/><ellipse transform="translate(0.419 0.272) rotate(33)" rx="0.35" ry="0.4" fill="url(#wb)" opacity="0.25"/><ellipse transform="translate(-0.419 -0.272) rotate(-147)" rx="0.3" ry="0.4" fill="url(#wb)" opacity="0.08"/><ellipse transform="translate(-0.601 -0.601) rotate(-135)" rx="0.6" ry="1.4" fill="url(#wb)" opacity="0.24"/><ellipse transform="translate(-0.890 -0.647) rotate(-144)" rx="0.42" ry="0.85" fill="url(#wb)" opacity="0.42"/><ellipse transform="translate(0.839 0.632) rotate(37)" rx="0.55" ry="0.75" fill="url(#wb)" opacity="0.62"/><ellipse transform="translate(0.462 -0.591) rotate(-52)" rx="0.6" ry="0.9" fill="url(#kb)" opacity="0.4"/><ellipse transform="translate(-0.409 0.802) rotate(-243)" rx="0.55" ry="0.95" fill="url(#kb)" opacity="0.33"/><ellipse transform="translate(-0.447 1.005) rotate(-246)" rx="0.3" ry="0.9" fill="url(#kb)" opacity="0.5"/><ellipse transform="translate(-0.611 0.382) rotate(-212)" rx="0.4" ry="0.8" fill="url(#kb)" opacity="0.2"/><circle r="1.1" fill="url(#rg0)"/></g><circle cx="-0.062" cy="0.012" r="0.019" fill="#dcee40"/><circle cx="0.066" cy="0.012" r="0.019" fill="#dcee40"/></g></g><ellipse cx="359.6" cy="132.8" rx="112.1" ry="124.4" transform="rotate(4 359.6 132.8)" fill="none" stroke="url(#rim)" stroke-width="1.3"/>
<text x="304.1" y="273.4" font-size="19.8" textLength="110.6" lengthAdjust="spacingAndGlyphs">63.5 nm rms</text>
<g clip-path="url(#c1)"><g transform="translate(299.7 367.6) scale(54.59 61.594)"><g filter="url(#jet)"><rect x="-1.1" y="-1.1" width="2.2" height="2.2" fill="url(#sx1)"/><rect x="-1.1" y="-1.1" width="2.2" height="2.2" fill="url(#sy1)"/><ellipse transform="translate(-0.971 -0.516) rotate(-152)" rx="0.48" ry="1" fill="url(#wb)" opacity="0.62"/><ellipse transform="translate(-0.575 -0.482) rotate(-140)" rx="0.35" ry="1.2" fill="url(#wb)" opacity="0.3"/><ellipse transform="translate(0.721 0.505) rotate(35)" rx="0.55" ry="0.75" fill="url(#wb)" opacity="0.62"/><ellipse transform="translate(0.410 0.287) rotate(35)" rx="0.3" ry="0.35" fill="url(#wb)" opacity="0.2"/><ellipse transform="translate(0.566 -0.566) rotate(-45)" rx="0.55" ry="0.9" fill="url(#kb)" opacity="0.5"/><ellipse transform="translate(-0.506 0.424) rotate(-220)" rx="0.25" ry="0.9" fill="url(#kb)" opacity="0.55"/><ellipse transform="translate(-0.142 1.010) rotate(-262)" rx="0.3" ry="0.5" fill="url(#kb)" opacity="0.5"/><circle r="1.1" fill="url(#rg1)"/></g><circle cx="-0.1" cy="0" r="0.02" fill="#2fa2f2"/></g></g><ellipse cx="299.7" cy="367.6" rx="52.6" ry="59.4" transform="rotate(3 299.7 367.6)" fill="none" stroke="url(#rim)" stroke-width="1"/>
<text x="248.4" y="443.5" font-size="19.8" textLength="101.8" lengthAdjust="spacingAndGlyphs">67.1 nm rms</text>
<g clip-path="url(#c2)"><g transform="translate(445.6 367.6) scale(54.796 61.594)"><g filter="url(#jet)"><rect x="-1.1" y="-1.1" width="2.2" height="2.2" fill="url(#sx2)"/><rect x="-1.1" y="-1.1" width="2.2" height="2.2" fill="url(#sy2)"/><ellipse transform="translate(-0.779 -0.450) rotate(-150)" rx="0.8" ry="1.05" fill="url(#wb)" opacity="0.47"/><ellipse transform="translate(0.901 0.631) rotate(35)" rx="0.42" ry="1" fill="url(#wb)" opacity="0.88"/><ellipse transform="translate(0.463 -0.552) rotate(-50)" rx="0.55" ry="0.95" fill="url(#kb)" opacity="0.36"/><ellipse transform="translate(0.707 -0.843) rotate(-50)" rx="0.32" ry="0.6" fill="url(#kb)" opacity="1"/><ellipse transform="translate(-0.360 0.624) rotate(-240)" rx="0.5" ry="0.95" fill="url(#kb)" opacity="0.42"/><ellipse transform="translate(-0.219 0.515) rotate(-247)" rx="0.2" ry="0.55" fill="url(#kb)" opacity="0.5"/><ellipse transform="translate(-0.132 0.941) rotate(-262)" rx="0.4" ry="0.7" fill="url(#kb)" opacity="0.2"/><circle r="1.1" fill="url(#rg2)"/></g></g></g><ellipse cx="445.6" cy="367.6" rx="52.8" ry="59.4" transform="rotate(3 445.6 367.6)" fill="none" stroke="url(#rim)" stroke-width="1"/>
<text x="394.2" y="443.5" font-size="19.8" textLength="101" lengthAdjust="spacingAndGlyphs">68.0 nm rms</text>
<g clip-path="url(#c3)"><g transform="translate(590.6 367.9) scale(54.796 61.285)"><g filter="url(#jet)"><rect x="-1.1" y="-1.1" width="2.2" height="2.2" fill="url(#sx3)"/><rect x="-1.1" y="-1.1" width="2.2" height="2.2" fill="url(#sy3)"/><ellipse transform="translate(-1.052 -0.322) rotate(-163)" rx="0.8" ry="1.2" fill="url(#wb)" opacity="0.85"/><ellipse transform="translate(0.997 0.465) rotate(25)" rx="0.75" ry="0.95" fill="url(#wb)" opacity="0.85"/><ellipse transform="translate(0.222 -0.611) rotate(-70)" rx="0.38" ry="0.9" fill="url(#kb)" opacity="0.34"/><ellipse transform="translate(0.456 -0.979) rotate(-65)" rx="0.35" ry="0.7" fill="url(#kb)" opacity="0.6"/><ellipse transform="translate(-0.150 0.704) rotate(-258)" rx="0.4" ry="0.95" fill="url(#kb)" opacity="0.38"/><ellipse transform="translate(-0.229 1.076) rotate(-258)" rx="0.35" ry="0.7" fill="url(#kb)" opacity="0.95"/><circle r="1.1" fill="url(#rg3)"/></g></g></g><ellipse cx="590.6" cy="367.9" rx="52.8" ry="59.1" transform="rotate(3 590.6 367.9)" fill="none" stroke="url(#rim)" stroke-width="1"/>
<text x="538.4" y="443.5" font-size="19.8" textLength="101.9" lengthAdjust="spacingAndGlyphs">85.8 nm rms</text>
<g clip-path="url(#c4)"><g transform="translate(734.6 367.9) scale(55.208 61.285)"><g filter="url(#jet)"><rect x="-1.1" y="-1.1" width="2.2" height="2.2" fill="url(#sx4)"/><rect x="-1.1" y="-1.1" width="2.2" height="2.2" fill="url(#sy4)"/><ellipse transform="translate(-0.580 -0.155) rotate(-165)" rx="0.5" ry="0.9" fill="url(#wb)" opacity="0.22"/><ellipse transform="translate(-0.866 -0.500) rotate(-150)" rx="0.8" ry="1.1" fill="url(#wb)" opacity="0.55"/><ellipse transform="translate(0.885 0.619) rotate(35)" rx="0.52" ry="0.85" fill="url(#wb)" opacity="0.82"/><ellipse transform="translate(0.535 -0.482) rotate(-42)" rx="0.55" ry="0.95" fill="url(#kb)" opacity="0.55"/><ellipse transform="translate(-0.342 0.940) rotate(-250)" rx="0.35" ry="0.7" fill="url(#kb)" opacity="0.5"/><ellipse transform="translate(-0.743 0.669) rotate(-222)" rx="0.35" ry="0.8" fill="url(#kb)" opacity="0.35"/><ellipse transform="translate(0.424 -0.424) rotate(-45)" rx="0.1" ry="0.4" fill="url(#kb)" opacity="0.4"/><ellipse transform="translate(0.598 -0.501) rotate(-40)" rx="0.08" ry="0.35" fill="url(#kb)" opacity="0.3"/><circle r="1.1" fill="url(#rg4)"/></g><circle cx="-0.07" cy="0" r="0.016" fill="#ffe890"/><circle cx="0.07" cy="0" r="0.016" fill="#2fc2c2"/></g></g><ellipse cx="734.6" cy="367.9" rx="53.2" ry="59.1" transform="rotate(3 734.6 367.9)" fill="none" stroke="url(#rim)" stroke-width="1"/>
<text x="683.2" y="443.5" font-size="19.8" textLength="101.8" lengthAdjust="spacingAndGlyphs">55.9 nm rms</text>
<g clip-path="url(#c5)"><g transform="translate(879.4 366.4) scale(54.796 59.946)"><g filter="url(#jet)"><rect x="-1.1" y="-1.1" width="2.2" height="2.2" fill="url(#sx5)"/><rect x="-1.1" y="-1.1" width="2.2" height="2.2" fill="url(#sy5)"/><ellipse transform="translate(-0.970 -0.560) rotate(-150)" rx="0.42" ry="0.8" fill="url(#wb)" opacity="0.42"/><ellipse transform="translate(-0.693 -0.400) rotate(-150)" rx="0.4" ry="1" fill="url(#wb)" opacity="0.3"/><ellipse transform="translate(0.670 0.523) rotate(38)" rx="0.6" ry="0.75" fill="url(#wb)" opacity="0.43"/><ellipse transform="translate(0.355 0.277) rotate(38)" rx="0.4" ry="0.4" fill="url(#wb)" opacity="0.35"/><ellipse transform="translate(0.530 -0.530) rotate(-45)" rx="0.55" ry="0.95" fill="url(#kb)" opacity="0.5"/><ellipse transform="translate(0.847 -0.074) rotate(-5)" rx="0.4" ry="0.7" fill="url(#kb)" opacity="0.3"/><ellipse transform="translate(0.272 -0.512) rotate(-62)" rx="0.14" ry="0.5" fill="url(#kb)" opacity="0.35"/><ellipse transform="translate(-0.444 0.952) rotate(-245)" rx="0.35" ry="0.7" fill="url(#kb)" opacity="0.6"/><circle r="1.1" fill="url(#rg5)"/></g><circle cx="-0.08" cy="0" r="0.016" fill="#2fc2a2"/><circle cx="0.08" cy="0" r="0.016" fill="#2fc2a2"/></g></g><ellipse cx="879.4" cy="366.4" rx="52.8" ry="57.8" transform="rotate(3 879.4 366.4)" fill="none" stroke="url(#rim)" stroke-width="1"/>
<text x="830.2" y="441.3" font-size="19.8" textLength="100.2" lengthAdjust="spacingAndGlyphs">70.7 nm rms</text>
<g clip-path="url(#c6)"><g transform="translate(299.4 537.2) scale(54.796 62.006)"><g filter="url(#jet)"><rect x="-1.1" y="-1.1" width="2.2" height="2.2" fill="url(#sx6)"/><rect x="-1.1" y="-1.1" width="2.2" height="2.2" fill="url(#sy6)"/><ellipse transform="translate(-0.848 -0.530) rotate(-148)" rx="0.8" ry="1.15" fill="url(#wb)" opacity="0.58"/><ellipse transform="translate(0.867 0.677) rotate(38)" rx="0.5" ry="0.8" fill="url(#wb)" opacity="0.85"/><ellipse transform="translate(0.530 -0.530) rotate(-45)" rx="0.55" ry="1.2" fill="url(#kb)" opacity="0.4"/><ellipse transform="translate(-0.274 0.752) rotate(-250)" rx="0.4" ry="0.9" fill="url(#kb)" opacity="0.22"/><ellipse transform="translate(-0.280 1.043) rotate(-255)" rx="0.3" ry="0.5" fill="url(#kb)" opacity="0.4"/><circle r="1.1" fill="url(#rg6)"/></g><circle cx="0.08" cy="0" r="0.018" fill="#2fd2a2"/></g></g><ellipse cx="299.4" cy="537.2" rx="52.8" ry="59.8" transform="rotate(3 299.4 537.2)" fill="none" stroke="url(#rim)" stroke-width="1"/>
<text x="248.4" y="614.5" font-size="19.8" textLength="101.8" lengthAdjust="spacingAndGlyphs">63.8 nm rms</text>
<g clip-path="url(#c7)"><g transform="translate(445.3 537.2) scale(55.105 62.006)"><g filter="url(#jet)"><rect x="-1.1" y="-1.1" width="2.2" height="2.2" fill="url(#sx7)"/><rect x="-1.1" y="-1.1" width="2.2" height="2.2" fill="url(#sy7)"/><ellipse transform="translate(-0.425 -0.736) rotate(-120)" rx="0.3" ry="1.6" fill="url(#wb)" opacity="0.4"/><ellipse transform="translate(-0.792 -0.792) rotate(-135)" rx="0.3" ry="0.6" fill="url(#wb)" opacity="0.65"/><ellipse transform="translate(0.725 -0.338) rotate(-25)" rx="0.55" ry="1.1" fill="url(#kb)" opacity="0.6"/><ellipse transform="translate(1.063 -0.285) rotate(-15)" rx="0.3" ry="0.6" fill="url(#kb)" opacity="0.85"/><ellipse transform="translate(-0.572 0.330) rotate(-210)" rx="0.35" ry="1" fill="url(#kb)" opacity="0.65"/><ellipse transform="translate(-0.488 0.696) rotate(-235)" rx="0.4" ry="0.8" fill="url(#kb)" opacity="0.3"/><ellipse transform="translate(-0.710 0.410) rotate(0)" rx="0.1" ry="0.1" fill="url(#kb)" opacity="0.2"/><ellipse transform="translate(0.707 0.707) rotate(45)" rx="0.55" ry="0.7" fill="url(#wb)" opacity="0.5"/><ellipse transform="translate(0.354 0.354) rotate(45)" rx="0.35" ry="0.4" fill="url(#wb)" opacity="0.3"/><circle r="1.1" fill="url(#rg7)"/></g><circle cx="0.07" cy="0" r="0.016" fill="#ffe890"/></g></g><ellipse cx="445.3" cy="537.2" rx="53.1" ry="59.8" transform="rotate(3 445.3 537.2)" fill="none" stroke="url(#rim)" stroke-width="1"/>
<text x="394.6" y="614.5" font-size="19.8" textLength="100.7" lengthAdjust="spacingAndGlyphs">68.2 nm rms</text>
<g clip-path="url(#c8)"><g transform="translate(589.7 537.6) scale(55.105 61.594)"><g filter="url(#jet)"><rect x="-1.1" y="-1.1" width="2.2" height="2.2" fill="url(#sx8)"/><rect x="-1.1" y="-1.1" width="2.2" height="2.2" fill="url(#sy8)"/><ellipse transform="translate(-1.015 -0.473) rotate(-155)" rx="0.6" ry="1.2" fill="url(#wb)" opacity="0.8"/><ellipse transform="translate(0.927 0.493) rotate(28)" rx="0.75" ry="0.9" fill="url(#wb)" opacity="0.7"/><ellipse transform="translate(0.081 -0.574) rotate(-82)" rx="0.3" ry="0.8" fill="url(#kb)" opacity="0.3"/><ellipse transform="translate(0.501 -0.598) rotate(-50)" rx="0.45" ry="1" fill="url(#kb)" opacity="0.34"/><ellipse transform="translate(-0.166 0.783) rotate(-258)" rx="0.35" ry="0.9" fill="url(#kb)" opacity="0.22"/><ellipse transform="translate(-0.340 1.046) rotate(-252)" rx="0.3" ry="0.7" fill="url(#kb)" opacity="1"/><circle r="1.1" fill="url(#rg8)"/></g><circle cx="0.07" cy="0" r="0.016" fill="#5fe2a2"/></g></g><ellipse cx="589.7" cy="537.6" rx="53.1" ry="59.4" transform="rotate(3 589.7 537.6)" fill="none" stroke="url(#rim)" stroke-width="1"/>
<text x="535.6" y="614.5" font-size="19.8" textLength="101.8" lengthAdjust="spacingAndGlyphs">88.0 nm rms</text>
<g clip-path="url(#c9)"><g transform="translate(735.1 537.6) scale(54.796 61.594)"><g filter="url(#jet)"><rect x="-1.1" y="-1.1" width="2.2" height="2.2" fill="url(#sx9)"/><rect x="-1.1" y="-1.1" width="2.2" height="2.2" fill="url(#sy9)"/><ellipse transform="translate(-1.015 -0.473) rotate(-155)" rx="0.6" ry="1.2" fill="url(#wb)" opacity="0.85"/><ellipse transform="translate(0.954 0.507) rotate(28)" rx="0.75" ry="0.9" fill="url(#wb)" opacity="0.85"/><ellipse transform="translate(0.517 0.188) rotate(20)" rx="0.4" ry="0.5" fill="url(#wb)" opacity="0.2"/><ellipse transform="translate(0.168 -0.628) rotate(-75)" rx="0.4" ry="1.1" fill="url(#kb)" opacity="0.36"/><ellipse transform="translate(0.507 -0.954) rotate(-62)" rx="0.3" ry="0.6" fill="url(#kb)" opacity="0.55"/><ellipse transform="translate(-0.270 0.668) rotate(-248)" rx="0.4" ry="1.2" fill="url(#kb)" opacity="0.36"/><ellipse transform="translate(-0.229 1.076) rotate(-258)" rx="0.35" ry="0.9" fill="url(#kb)" opacity="0.95"/><circle r="1.1" fill="url(#rg9)"/></g><circle cx="0.07" cy="0" r="0.016" fill="#9fe262"/></g></g><ellipse cx="735.1" cy="537.6" rx="52.8" ry="59.4" transform="rotate(3 735.1 537.6)" fill="none" stroke="url(#rim)" stroke-width="1"/>
<text x="677.6" y="614.5" font-size="19.8" textLength="101.8" lengthAdjust="spacingAndGlyphs">80.9 nm rms</text>
<g clip-path="url(#c10)"><g transform="translate(879.8 537) scale(55.208 60.77)"><g filter="url(#jet)"><rect x="-1.1" y="-1.1" width="2.2" height="2.2" fill="url(#sx10)"/><rect x="-1.1" y="-1.1" width="2.2" height="2.2" fill="url(#sy10)"/><ellipse transform="translate(-0.970 -0.560) rotate(-150)" rx="0.58" ry="1.3" fill="url(#wb)" opacity="0.75"/><ellipse transform="translate(0.413 -0.590) rotate(-55)" rx="0.45" ry="0.95" fill="url(#kb)" opacity="0.27"/><ellipse transform="translate(-0.334 1.027) rotate(-252)" rx="0.35" ry="0.7" fill="url(#kb)" opacity="0.55"/><circle r="1.1" fill="url(#rg10)"/><ellipse transform="translate(0.738 0.479) rotate(33)" rx="0.55" ry="0.7" fill="url(#wb)" opacity="0.58"/><ellipse transform="translate(0.369 0.258) rotate(35)" rx="0.4" ry="0.4" fill="url(#wb)" opacity="0.3"/></g><circle cx="0.07" cy="0" r="0.016" fill="#ffe890"/></g></g><ellipse cx="879.8" cy="537" rx="53.2" ry="58.6" transform="rotate(3 879.8 537)" fill="none" stroke="url(#rim)" stroke-width="1"/>
<text x="828.3" y="611.3" font-size="19.8" textLength="101.5" lengthAdjust="spacingAndGlyphs">65.5 nm rms</text>
</svg>
</body></html>
